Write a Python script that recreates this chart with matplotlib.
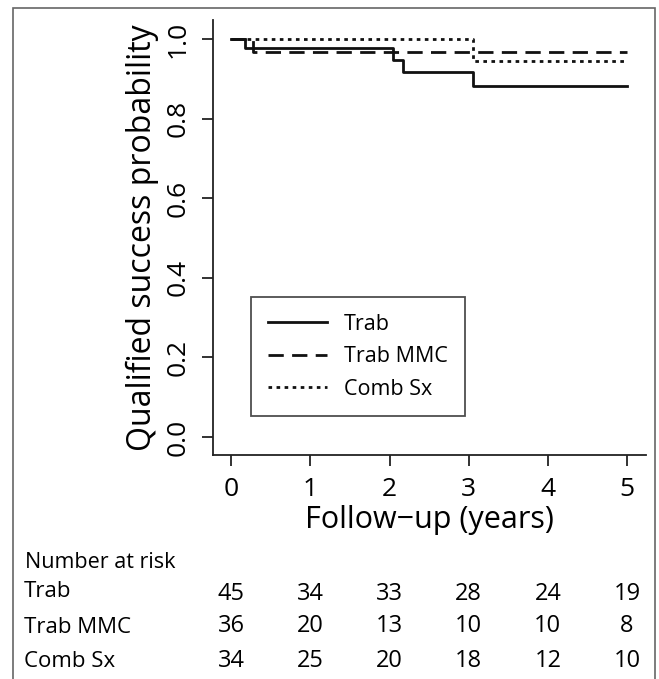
import matplotlib
matplotlib.use('Agg')
import matplotlib.pyplot as plt
import matplotlib.transforms as mtransforms
from matplotlib.patches import Rectangle

plt.rcParams['font.family'] = ['Open Sans', 'DejaVu Sans']

# Kaplan-Meier step data
trab_t = [0, 0.17, 2.04, 2.17, 3.06, 5]
trab_s = [1.0, 0.978, 0.947, 0.918, 0.883, 0.883]
mmc_t = [0, 0.28, 5]
mmc_s = [1.0, 0.968, 0.968]
comb_t = [0, 3.06, 5]
comb_s = [1.0, 0.944, 0.944]

groups = ['Trab', 'Trab MMC', 'Comb Sx']
risk_times = [0, 1, 2, 3, 4, 5]
at_risk = {
    'Trab': [45, 34, 33, 28, 24, 19],
    'Trab MMC': [36, 20, 13, 10, 10, 8],
    'Comb Sx': [34, 25, 20, 18, 12, 10],
}

W, H = 659, 679
fig = plt.figure(figsize=(W / 100, H / 100), dpi=100)
ax = fig.add_axes([213 / W, 1 - 455 / H, (646 - 213) / W, (455 - 20) / H])

lw = 2.0
ax.step(trab_t, trab_s, where='post', color='#111111', lw=lw, label='Trab')
ax.step(mmc_t, mmc_s, where='post', color='#111111', lw=lw,
        linestyle=(0, (5.5, 3)), label='Trab MMC')
ax.step(comb_t, comb_s, where='post', color='#111111', lw=lw,
        linestyle=(0, (1.3, 1.6)), label='Comb Sx')

ax.set_xlim(-0.23, 5.24)
ax.set_ylim(-0.045, 1.048)
ax.set_xticks(risk_times)
ax.set_yticks([0, 0.2, 0.4, 0.6, 0.8, 1.0])
ax.set_yticklabels(['0.0', '0.2', '0.4', '0.6', '0.8', '1.0'], rotation=90, va='center')
for s in ['top', 'right']:
    ax.spines[s].set_visible(False)
for s in ['left', 'bottom']:
    ax.spines[s].set_linewidth(1.3)
    ax.spines[s].set_color('#222222')
ax.tick_params(direction='out', length=8, width=1.3, color='#222222',
               labelsize=19, pad=8)
ax.set_xlabel('Follow\u2212up (years)', fontsize=22, labelpad=2)
ax.set_ylabel('Qualified success probability', fontsize=23, labelpad=5)

leg = ax.legend(loc='upper left', bbox_to_anchor=(0.088, 0.363), fontsize=15.5,
                frameon=True, fancybox=False, handlelength=2.75,
                borderpad=0.77, labelspacing=0.54, handletextpad=0.8, borderaxespad=0)
leg.get_frame().set_edgecolor('#222222')
leg.get_frame().set_linewidth(1.3)

# number at risk table
tr = mtransforms.blended_transform_factory(ax.transData, fig.transFigure)
fig.text(25 / W, 1 - 568 / H, 'Number at risk', fontsize=15.5, va='baseline')
label_y = [597, 633, 667]
num_y = [600, 632, 667]
for g, yl, yn in zip(groups, label_y, num_y):
    fig.text(24 / W, 1 - yl / H, g, fontsize=16, va='baseline')
    for t, n in zip(risk_times, at_risk[g]):
        ax.text(t, 1 - yn / H, str(n), transform=tr, fontsize=17,
                ha='center', va='baseline', clip_on=False)

fig.patches.append(Rectangle((13 / W, -0.02), (655 - 13) / W, 1 - 8 / H + 0.02,
                             transform=fig.transFigure, fill=False,
                             edgecolor='#666666', lw=1.2))

fig.savefig('out.png', dpi=100)
